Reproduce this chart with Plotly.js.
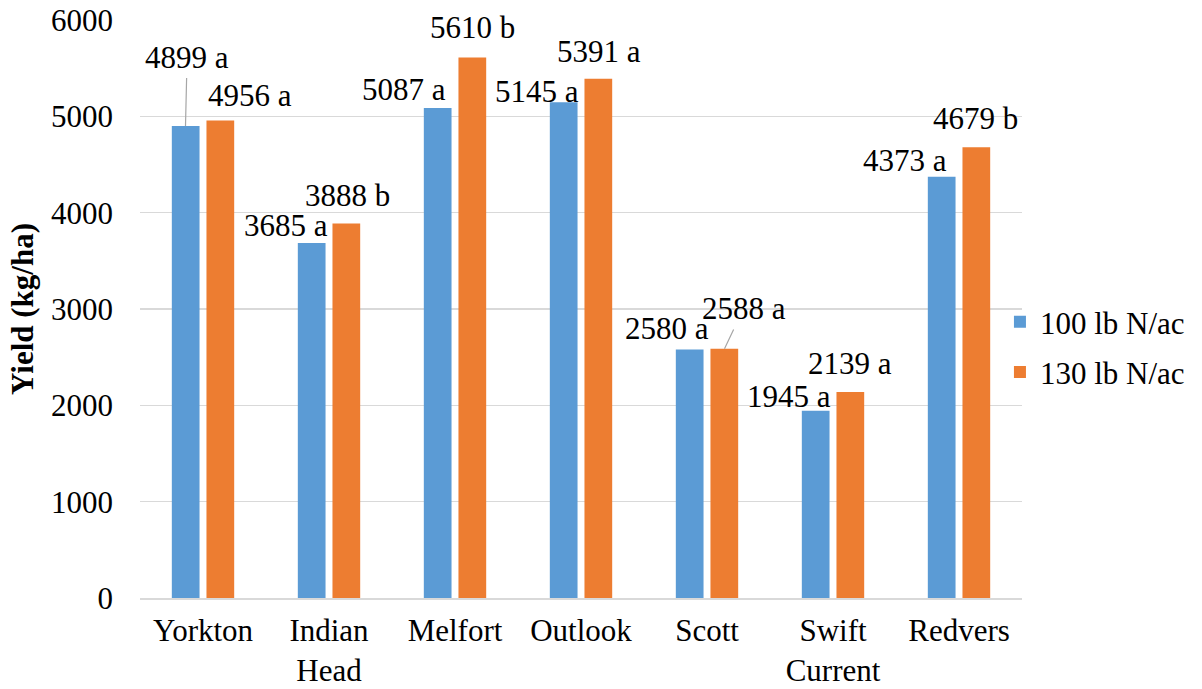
<!DOCTYPE html>
<html>
<head>
<meta charset="utf-8">
<script src="https://cdn.plot.ly/plotly-3.0.1.min.js"></script>
<style>html,body{margin:0;padding:0;background:#fff;}#chart{width:1202px;height:689px;}</style>
</head>
<body>
<div id="chart"></div>
<script>
// ---- data ----
const categories = ['Yorkton', 'Indian Head', 'Melfort', 'Outlook', 'Scott', 'Swift Current', 'Redvers'];
const tickLabels = ['Yorkton', 'Indian<br>Head', 'Melfort', 'Outlook', 'Scott', 'Swift<br>Current', 'Redvers'];
const seriesNames = ['100 lb N/ac', '130 lb N/ac'];
const yield100 = [4899, 3685, 5087, 5145, 2580, 1945, 4373];
const yield130 = [4956, 3888, 5610, 5391, 2588, 2139, 4679];
const letters100 = ['a', 'a', 'a', 'a', 'a', 'a', 'a'];
const letters130 = ['a', 'b', 'b', 'a', 'a', 'a', 'b'];
const yTicks = [0, 1000, 2000, 3000, 4000, 5000, 6000];

// ---- styling / label placement (pixel offsets, not data) ----
const SERIF = 'Times New Roman';
const FS = 31;
const colors = ['#5b9bd5', '#ed7d31'];
const barHalf = 17.5; // px offset of each bar centre from category centre
// [xshift, yshift] relative to category centre / bar top, or leader line offsets [ax, ay, true]
const off100 = [[1.6, -69, true], [-42.8, 18], [-50.7, 18], [-44.5, 10.4], [-40.4, 20.5], [-44.2, 14.6], [-53.6, 16.7]];
const off130 = [[46.6, 24.6], [18.2, 28], [17.8, 30], [18, 26.7], [19, -40, true], [17.3, 28], [16.4, 28.8]];

const traces = [
  {type: 'bar', name: seriesNames[0], legendgroup: 'g1', x: categories, y: yield100, marker: {color: colors[0]}, hoverinfo: 'none'},
  {type: 'bar', name: seriesNames[1], legendgroup: 'g2', x: categories, y: yield130, marker: {color: colors[1]}, hoverinfo: 'none'}
];

const annotations = [];
function addLabels(vals, lets, offs, sign) {
  vals.forEach((v, i) => {
    const o = offs[i];
    const base = {x: categories[i], y: v, xref: 'x', yref: 'y', text: v + ' ' + lets[i],
      font: {family: SERIF, size: FS, color: '#000'}};
    if (o[2]) {
      Object.assign(base, {showarrow: true, arrowhead: 0, arrowwidth: 1.2, arrowcolor: '#a6a6a6',
        xshift: sign * barHalf, ax: o[0], ay: o[1], standoff: 0, startstandoff: 2});
    } else {
      Object.assign(base, {showarrow: false, xshift: o[0], yshift: o[1], xanchor: 'center', yanchor: 'middle'});
    }
    annotations.push(base);
  });
}
addLabels(yield100, letters100, off100, -1);
addLabels(yield130, letters130, off130, 1);

const layout = {
  width: 1202, height: 689,
  margin: {l: 140, r: 174, t: 20, b: 91},
  paper_bgcolor: '#fff', plot_bgcolor: '#fff',
  barmode: 'group', bargap: 0.45, bargroupgap: 0.2,
  showlegend: true,
  legend: {x: 0.975, xanchor: 'left', y: 0.434, yanchor: 'middle', font: {family: SERIF, size: FS, color: '#000'},
    itemwidth: 30, tracegroupgap: 7, traceorder: 'grouped', bgcolor: 'rgba(0,0,0,0)'},
  xaxis: {type: 'category', tickmode: 'array', tickvals: categories, ticktext: tickLabels,
    showgrid: false, showline: true, linecolor: '#d9d9d9', linewidth: 1.5, ticks: '',
    ticklabelstandoff: 4,
    tickfont: {family: SERIF, size: FS, color: '#000'}, fixedrange: true},
  yaxis: {range: [0, 6000], tickmode: 'array', tickvals: yTicks, ticktext: yTicks.map(String),
    showgrid: true, gridcolor: '#d9d9d9', gridwidth: 1.3, zeroline: false, showline: false, ticks: '',
    ticklabelstandoff: 26,
    tickfont: {family: SERIF, size: FS, color: '#000'},
    title: {text: '<b>Yield (kg/ha)</b>', font: {family: SERIF, size: FS, color: '#000'}, standoff: 8},
    fixedrange: true},
  annotations: annotations
};

Plotly.newPlot('chart', traces, layout, {displayModeBar: false, staticPlot: true});
</script>
</body>
</html>
